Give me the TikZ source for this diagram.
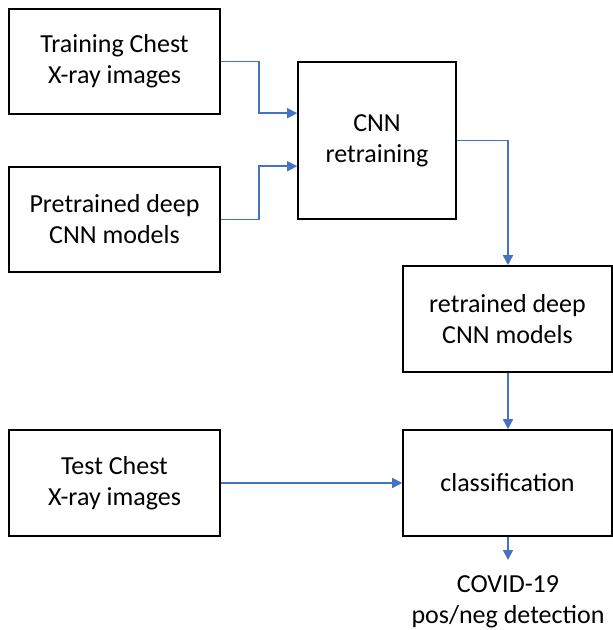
\documentclass[tikz,border=0pt]{standalone}
\usepackage{fontspec}
\setmainfont{Carlito}
\usetikzlibrary{arrows.meta}
\definecolor{arrowblue}{HTML}{4472C4}
\begin{document}
\begin{tikzpicture}[x=1pt,y=-1pt,
  box/.style={draw=black,line width=1.6pt,minimum width=211pt,minimum height=105pt,align=center,font=\fontsize{26}{31}\selectfont,inner sep=0pt},
  conn/.style={draw=arrowblue,line width=1.5pt,-{Triangle[length=10pt,width=10pt]}},
  lbl/.style={align=center,font=\fontsize{26}{31}\selectfont,inner sep=0pt}]
\useasboundingbox (0,0) rectangle (613,630);
\node[box] (b1) at (114.5,61.5) {Training Chest\\X-ray images};
\node[box] (b2) at (114.5,219.5) {Pretrained deep\\CNN models};
\node[box,minimum width=158pt,minimum height=157pt] (b3) at (377,140.5) {CNN\\retraining};
\node[box,minimum width=209pt,minimum height=106pt] (b4) at (507.5,319) {retrained deep\\CNN models};
\node[box,minimum height=106pt] (b5) at (114.5,483) {Test Chest\\X-ray images};
\node[box,minimum width=209pt,minimum height=106pt] (b6) at (507.5,483) {classification};
\node[lbl] (out) at (508,602) {COVID-19\\pos/neg detection};
\coordinate (o6) at (508,560);
\draw[conn] (b1.east) -- ++(38,0) |- ([yshift=-52pt]b3.north west);
\draw[conn] (b2.east) -- ++(38,0) |- ([yshift=-105pt]b3.north west);
\draw[conn] (b3.east) -| ([xshift=0.5pt]b4.north);
\draw[conn] ([xshift=0.5pt]b4.south) -- ([xshift=0.5pt]b6.north);
\draw[conn] (b5.east) -- (b6.west);
\draw[conn] ([xshift=0.5pt]b6.south) -- (o6);
\end{tikzpicture}
\end{document}
